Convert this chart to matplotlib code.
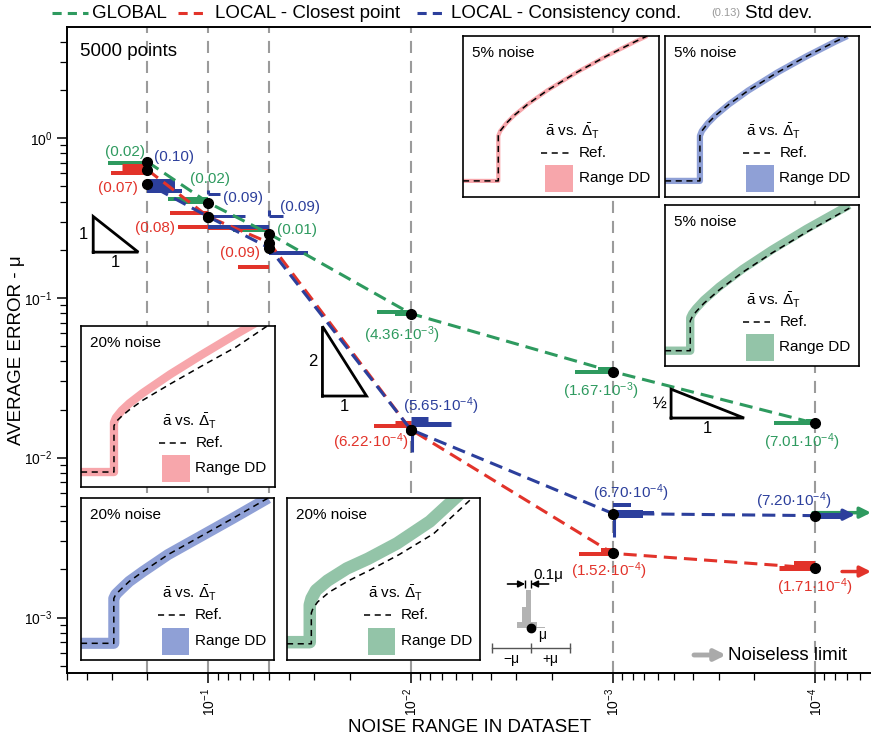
import numpy as np
import matplotlib.pyplot as plt
from matplotlib.lines import Line2D
from matplotlib.patches import Rectangle
from matplotlib.ticker import NullFormatter

plt.rcParams['font.family'] = ['Liberation Sans', 'DejaVu Sans']
plt.rcParams['mathtext.fontset'] = 'custom'
plt.rcParams['mathtext.rm'] = 'Liberation Sans'
plt.rcParams['mathtext.it'] = 'Liberation Sans:italic'
plt.rcParams['mathtext.bf'] = 'Liberation Sans:bold'

GREEN = '#2e9a5f'
RED = '#e2332a'
BLUE = '#2c3f9c'
GRAY = '#9b9b9b'
PINK = '#f7a6ab'
LBLUE = '#8fa0d6'
LGREEN = '#93c4a8'

# average error vs noise range
noise = [0.2, 0.1, 0.05, 0.01, 0.001, 0.0001]
mu_global = [0.708, 0.393, 0.251, 0.0797, 0.0345, 0.0164]
mu_closest = [0.631, 0.321, 0.221, 0.0150, 0.00252, 0.00204]
mu_consist = [0.516, 0.321, 0.205, 0.0150, 0.00447, 0.00434]

# standard deviations written next to the points
sd_global = [0.02, 0.02, 0.01, 4.36e-3, 1.67e-3, 7.01e-4]
sd_closest = [0.07, 0.08, 0.09, 6.22e-4, 1.52e-4, 1.71e-4]
sd_consist = [0.10, 0.09, 0.09, 5.65e-4, 6.70e-4, 7.20e-4]

# noiseless limits (arrows on the right)
limit_global = 0.00453
limit_closest = 0.00194
limit_consist = 0.00440

# error histograms drawn as horizontal bars: (noise from, noise to, error)
hist_global = [(0.313, 0.2, 0.698), (0.158, 0.1, 0.416), (0.135, 0.1, 0.405),
               (0.0752, 0.05, 0.266), (0.0147, 0.01, 0.0818), (0.0119, 0.01, 0.0800),
               (0.00154, 0.001, 0.0345), (0.00119, 0.001, 0.0352),
               (0.00016, 0.0001, 0.0164), (0.000111, 0.0001, 0.0168)]
hist_global_w = [4, 4, 6, 4, 4, 6, 4, 6, 4, 6]
hist_closest = [(0.302, 0.2, 0.604), (0.267, 0.2, 0.64), (0.154, 0.1, 0.340),
                (0.141, 0.1, 0.278), (0.1, 0.05, 0.274), (0.071, 0.05, 0.156),
                (0.0151, 0.01, 0.01585), (0.0119, 0.01, 0.01656),
                (0.00147, 0.001, 0.00248), (0.00115, 0.001, 0.00259),
                (0.000151, 0.0001, 0.00205), (0.000127, 0.0001, 0.00214)]
hist_closest_w = [4, 11, 4, 4, 4, 4, 4, 5, 4, 6, 5, 8]
hist_consist = [(0.2, 0.146, 0.51), (0.2, 0.135, 0.467), (0.1, 0.0656, 0.326),
                (0.1, 0.0872, 0.447), (0.1, 0.05, 0.278), (0.05, 0.032, 0.191),
                (0.05, 0.043, 0.326), (0.01, 0.00634, 0.01631), (0.01, 0.00824, 0.01754),
                (0.001, 0.000627, 0.00453), (0.001, 0.00071, 0.00443),
                (0.001, 0.000815, 0.00508), (0.0001, 7.43e-5, 0.00434)]
hist_consist_w = [12, 4, 3, 3, 4, 4, 3, 5, 5, 4, 8, 4, 6]
stems_consist = [(0.1, 0.447, 0.47), (0.05, 0.326, 0.355),
                 (0.0099, 0.0143, 0.0109), (0.00099, 0.00422, 0.00321)]

# slope triangles: right-angle corner, run (decades), slope
tri_x = [0.371, 0.0273, 5.16e-4]
tri_y = [0.193, 0.0243, 0.0177]
tri_run = [0.223, 0.218, 0.361]
tri_slope = [1, 2, 0.5]
tri_text = ['1', '2', '½']

# inset curves (unit box coordinates)
ref_a_x = [0, 0.18, 0.18, 0.19, 0.22, 0.26, 0.33, 0.43, 0.58, 0.73, 0.88, 0.94]
ref_a_y = [0.10, 0.10, 0.38, 0.41, 0.457, 0.506, 0.576, 0.662, 0.774, 0.874, 0.966, 1.0]
ref_b_x = [0, 0.13, 0.13, 0.14, 0.16, 0.20, 0.28, 0.40, 0.55, 0.73, 0.95]
ref_b_y = [0.095, 0.095, 0.28, 0.305, 0.337, 0.389, 0.473, 0.582, 0.701, 0.832, 0.98]
band_b_y = [0.095, 0.095, 0.30, 0.325, 0.357, 0.409, 0.493, 0.602, 0.721, 0.852, 1.0]
ref_c_x = [0, 0.17, 0.17, 0.18, 0.21, 0.25, 0.32, 0.46, 0.62, 0.80, 0.96]
ref_c_y = [0.093, 0.093, 0.38, 0.405, 0.44, 0.48, 0.54, 0.64, 0.75, 0.87, 1.0]
band_c_y = [0.093, 0.093, 0.40, 0.43, 0.475, 0.52, 0.585, 0.70, 0.82, 0.95, 1.06]
ref_d_x = [0, 0.17, 0.17, 0.18, 0.21, 0.25, 0.32, 0.45, 0.60, 0.78, 0.97]
ref_d_y = [0.103, 0.103, 0.38, 0.405, 0.44, 0.485, 0.545, 0.65, 0.75, 0.87, 1.0]
ref_e_x = [0, 0.126, 0.126, 0.135, 0.16, 0.22, 0.32, 0.43, 0.58, 0.76, 0.96]
ref_e_y = [0.10, 0.10, 0.29, 0.32, 0.36, 0.42, 0.49, 0.555, 0.65, 0.78, 1.0]
band_e_x = [0, 0.118, 0.118, 0.127, 0.15, 0.21, 0.31, 0.42, 0.57, 0.74, 0.90]
band_e_y = [0.11, 0.11, 0.34, 0.38, 0.43, 0.49, 0.565, 0.625, 0.72, 0.855, 1.03]

# small histogram legend (offset in units of mu, relative height)
key_left = [-0.36, -0.23, -0.13, 0.0, 0.15]
key_width = [0.13, 0.10, 0.13, 0.15, 0.21]
key_height = [0.16, 0.55, 1.0, 0.16, 0.03]

W, H = 871, 741


def px_rect(l, t, r, b):
    return [l / W, 1 - b / H, (r - l) / W, (b - t) / H]


def fmt_sd(v):
    if v >= 0.01:
        return f"({v:.2f})"
    e = int(np.floor(np.log10(v)))
    return f"({v / 10**e:.2f}·10$^{{{e}}}$)"


fig = plt.figure(figsize=(W / 100, H / 100), dpi=100)
ax = fig.add_axes(px_rect(67, 27, 871, 673))
ax.set_xscale('log')
ax.set_yscale('log')
ax.set_xlim(0.5, 5.3e-5)
ax.set_ylim(4.5e-4, 4.94)

for n in noise:
    ax.axvline(n, color=GRAY, lw=1.5, dashes=(5.8, 3.8), zorder=0)

# histograms
for hist, widths, c in [(hist_global, hist_global_w, GREEN),
                        (hist_closest, hist_closest_w, RED),
                        (hist_consist, hist_consist_w, BLUE)]:
    for (x0, x1, y), w in zip(hist, widths):
        ax.hlines(y, x0, x1, color=c, lw=w * 0.72, zorder=2)
for x, y0, y1 in stems_consist:
    ax.vlines(x, y0, y1, color=BLUE, lw=2.2, zorder=2)

ax.plot(noise, mu_global, color=GREEN, lw=2.2, ls=(0, (4.3, 2.3)), zorder=3)
ax.plot(noise, mu_closest, color=RED, lw=2.2, ls=(0, (4.3, 2.3)), zorder=3)
ax.plot(noise, mu_consist, color=BLUE, lw=2.2, ls=(3.3, (4.3, 2.3)), zorder=3)
for mu in [mu_global, mu_closest, mu_consist]:
    ax.plot(noise, mu, 'o', color='black', ms=7, zorder=5)

# noiseless limit arrows
for lim, c, x0, x1 in [(limit_global, GREEN, 0.928, 1.0),
                       (limit_consist, BLUE, 0.928, 0.98),
                       (limit_closest, RED, 0.964, 1.0)]:
    ax.annotate('', xy=(x1, lim), xytext=(x0, lim),
                xycoords=('axes fraction', 'data'), textcoords=('axes fraction', 'data'),
                arrowprops=dict(arrowstyle='-|>', color=c, lw=2.5, mutation_scale=16,
                                shrinkA=0, shrinkB=0),
                annotation_clip=False, zorder=4)

# std dev labels
off_global = [(-22, 10), (2, 24), (28, 4), (-9, -22), (-12, -20), (-13, -19)]
off_closest = [(-30, -18), (-53, -11), (-29, -10), (-40, -13), (-4, -18), (0, -19)]
off_consist = [(27, 27), (35, 19), (31, 41), (30, 23), (18, 20), (-21, 14)]
for mu, sd, offs, c in [(mu_global, sd_global, off_global, GREEN),
                        (mu_closest, sd_closest, off_closest, RED),
                        (mu_consist, sd_consist, off_consist, BLUE)]:
    for n, m, s, o in zip(noise, mu, sd, offs):
        ax.annotate(fmt_sd(s), xy=(n, m), xytext=o, textcoords='offset pixels',
                    ha='center', va='center', color=c, fontsize=11, zorder=6)

# slope triangles
for cx, cy, run, sl, t in zip(tri_x, tri_y, tri_run, tri_slope, tri_text):
    bx = cx / 10 ** run
    ty = cy * 10 ** (run * sl)
    ax.plot([cx, bx, cx, cx], [cy, cy, ty, cy], color='black', lw=2,
            solid_joinstyle='miter', zorder=4)
    ax.annotate(t, xy=(cx, cy * 10 ** (run * sl / 2)), xytext=(-5, 0),
                textcoords='offset pixels', ha='right', va='center', fontsize=12)
    ax.annotate('1', xy=(cx / 10 ** (run / 2), cy), xytext=(0, -3),
                textcoords='offset pixels', ha='center', va='top', fontsize=12)

ax.spines['right'].set_visible(False)
for s in ['left', 'bottom', 'top']:
    ax.spines[s].set_linewidth(1.4)
ax.tick_params(which='both', direction='out', top=False, right=False, labelsize=10)
ax.tick_params(which='major', length=7, width=1.1)
ax.tick_params(which='minor', length=5, width=0.9)
ax.tick_params(axis='x', labelrotation=90)
ax.xaxis.set_minor_formatter(NullFormatter())
ax.yaxis.set_minor_formatter(NullFormatter())

ax.text(0.016, 0.962, '5000 points', transform=ax.transAxes, fontsize=13.5, va='center')

fig.text(17 / W, 1 - 350 / H, 'AVERAGE ERROR - μ', rotation=90, ha='center',
         va='center', fontsize=13.5)
fig.text(470 / W, 1 - 728 / H, 'NOISE RANGE IN DATASET', ha='center', va='center',
         fontsize=13.5)

# top legend
ly = 1 - 13 / H
for x0, x1, c, tx, label in [(52, 88, GREEN, 92, 'GLOBAL'),
                             (178, 208, RED, 215, 'LOCAL - Closest point'),
                             (417, 446, BLUE, 451, 'LOCAL - Consistency cond.')]:
    fig.add_artist(Line2D([x0 / W, x1 / W], [ly, ly], color=c, lw=2.2,
                          ls=(0, (3, 2)), transform=fig.transFigure))
    fig.text(tx / W, ly, label, fontsize=13.5, va='center')
fig.text(711 / W, ly, '(0.13)', fontsize=8, color='#999999', va='center')
fig.text(745 / W, ly, 'Std dev.', fontsize=13.5, va='center')

# noiseless limit key
fig.add_artist(plt.Annotation('', xy=(726, H - 655), xytext=(694, H - 655),
                              xycoords='figure pixels', textcoords='figure pixels',
                              arrowprops=dict(arrowstyle='-|>', color='#aaaaaa', lw=3.5,
                                              mutation_scale=16, shrinkA=0, shrinkB=0)))
fig.text(728 / W, 1 - 655 / H, 'Noiseless limit', fontsize=13.5, va='center')


def inset(rect, title, ref_x, ref_y, band_x, band_y, color, band_lw):
    a = fig.add_axes(px_rect(*rect))
    a.set_xlim(0, 1)
    a.set_ylim(0, 1)
    a.set_xticks([])
    a.set_yticks([])
    for s in a.spines.values():
        s.set_linewidth(1.2)
    a.plot(band_x, band_y, color=color, lw=band_lw, solid_joinstyle='round',
           solid_capstyle='butt')
    a.plot(ref_x, ref_y, color='black', lw=1.1, dashes=(4, 3))
    a.text(0.045, 0.895, title, fontsize=11, va='center')
    a.text(0.42, 0.41, r'$\bar{\mathrm{a}}$ vs. $\bar{\Delta}_\mathrm{T}$', fontsize=11,
           va='center')
    a.plot([0.40, 0.54], [0.275, 0.275], color='black', lw=1.1, dashes=(4, 3))
    a.text(0.59, 0.275, 'Ref.', fontsize=11, va='center')
    a.add_patch(Rectangle((0.42, 0.03), 0.14, 0.17, color=color, lw=0))
    a.text(0.59, 0.115, 'Range DD', fontsize=11, va='center')


inset((463, 36, 659, 197), '5% noise', ref_a_x, ref_a_y, ref_a_x, ref_a_y, PINK, 3)
inset((665, 36, 859, 197), '5% noise', ref_a_x, ref_a_y, ref_a_x, ref_a_y, LBLUE, 4.5)
inset((665, 205, 859, 366), '5% noise', ref_b_x, ref_b_y, ref_b_x, band_b_y, LGREEN, 6)
inset((81, 326, 275, 487), '20% noise', ref_c_x, ref_c_y, ref_c_x, band_c_y, PINK, 6)
inset((81, 498, 274, 660), '20% noise', ref_d_x, ref_d_y, ref_d_x, ref_d_y, LBLUE, 8)
inset((287, 498, 480, 660), '20% noise', ref_e_x, ref_e_y, band_e_x, band_e_y, LGREEN, 9)

# histogram key
k = fig.add_axes(px_rect(484, 570, 578, 665))
k.set_xlim(-1.2, 1.2)
k.set_ylim(-37, 58)
k.axis('off')
k.bar(key_left, [h * 38 for h in key_height], width=key_width, align='edge',
      color='#b3b3b3', lw=0)
k.plot([0], [0], 'o', color='black', ms=6)
k.text(0.18, -7, 'μ', fontsize=10, va='center')
k.plot([-1, 1], [-20, -20], color='#555555', lw=1)
k.vlines([-1, 0, 1], -25, -15, color='#555555', lw=1)
k.text(-0.5, -31, '−μ', fontsize=10, ha='center', va='center')
k.text(0.5, -31, '+μ', fontsize=10, ha='center', va='center')
k.vlines([-0.15, 0.0], 40, 48, color='black', lw=1)
k.annotate('', xy=(-0.15, 44), xytext=(-0.6, 44),
           arrowprops=dict(arrowstyle='-|>', color='black', lw=1.2, shrinkA=0, shrinkB=0))
k.annotate('', xy=(0.0, 44), xytext=(0.45, 44),
           arrowprops=dict(arrowstyle='-|>', color='black', lw=1.2, shrinkA=0, shrinkB=0))
k.text(0.45, 53, '0.1μ', fontsize=11, ha='center', va='center')

fig.savefig('out.png', dpi=100)
